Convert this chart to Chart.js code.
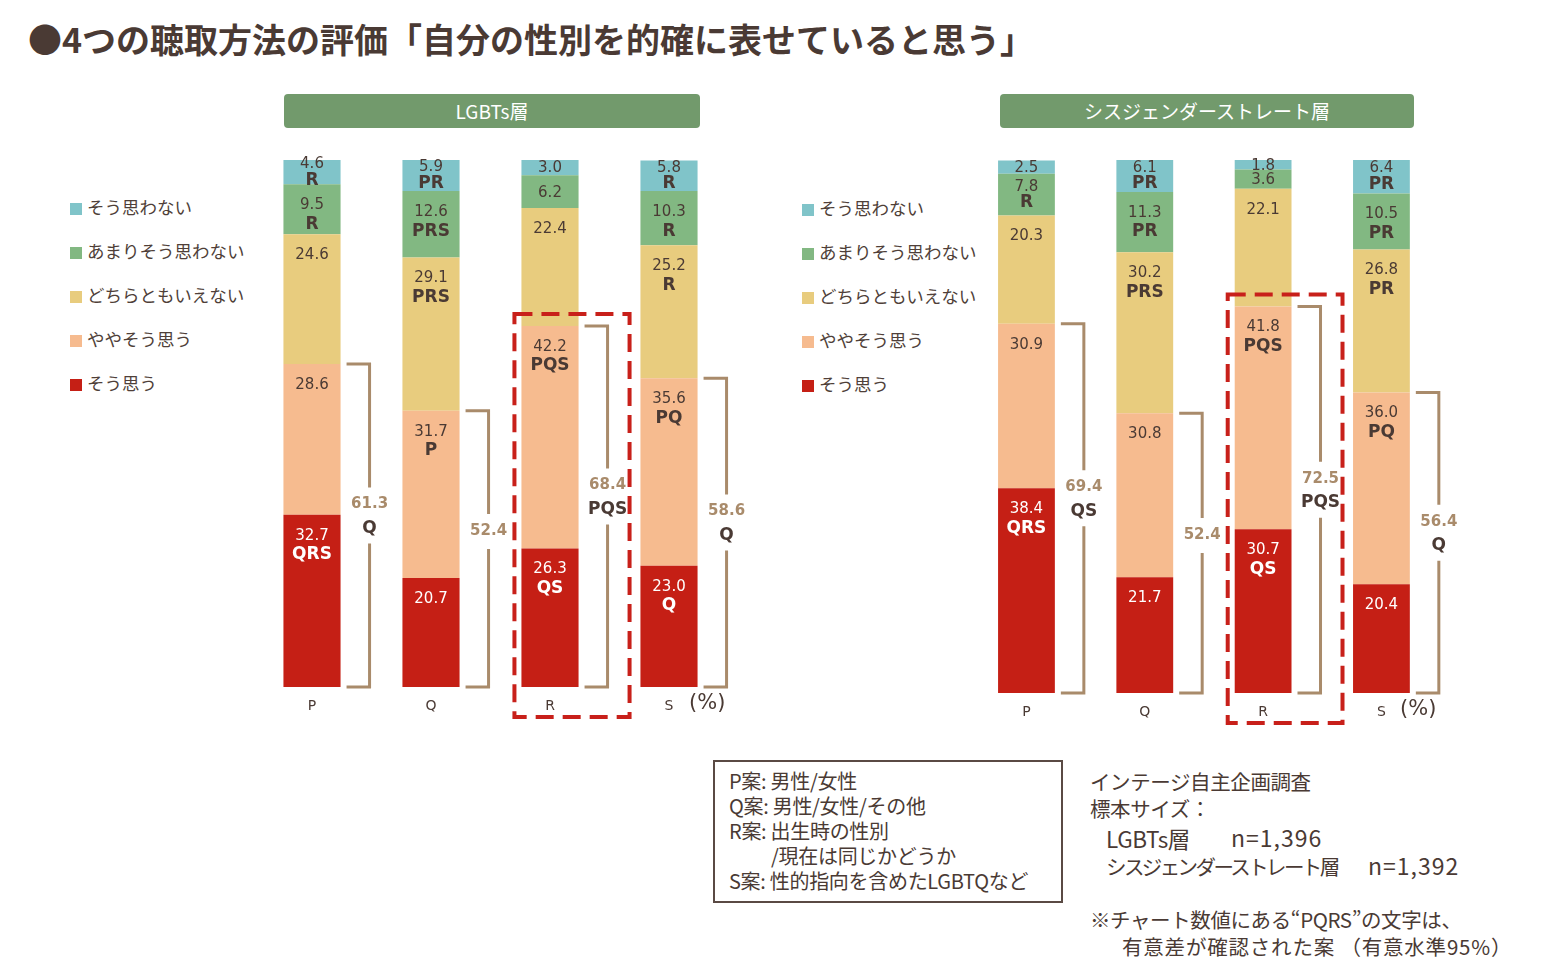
<!DOCTYPE html>
<html lang="ja">
<head>
<meta charset="utf-8">
<script src="https://cdn.jsdelivr.net/npm/chart.js@4.4.1/dist/chart.umd.min.js"></script>
<style>
  body { margin: 0; width: 1563px; height: 976px; background: #fff; position: relative; overflow: hidden;
         font-family: "Noto Sans CJK JP", sans-serif; color: #4a3a34; }
  .abs { position: absolute; }
  #title { left: 28px; top: 14px; font-size: 34px; font-weight: bold; color: #4a3a34; white-space: nowrap; }
  .banner { top: 94px; height: 34px; background: #729a6c; color: #fff; font-size: 19px; line-height: 34px;
            text-align: center; border-radius: 4px; }
  .legend div { height: 44px; font-size: 17.5px; line-height: 20px; white-space: nowrap; color: #4f3f39; }
  .legend span { display: inline-block; width: 12px; height: 12px; margin-right: 5px; vertical-align: -1px; }
  .pct { font-size: 21px; font-family: "DejaVu Sans", sans-serif; color: #4a3a34; }
  #notebox { left: 713px; top: 760px; width: 346px; height: 139px; border: 2px solid #5a4a44; }
  #notebox div, .info div { white-space: nowrap; }
  #notebox div { font-size: 20px; line-height: 25px; letter-spacing: -0.3px; }
  .info div { font-size: 20.5px; line-height: 27px; letter-spacing: -0.4px; position: relative; }
  .info .n { position: absolute; top: -1px; font-size: 23px; letter-spacing: 1px; }
</style>
</head>
<body>
<div id="title" class="abs">●4つの聴取方法の評価「自分の性別を的確に表せていると思う」</div>
<div class="abs banner" style="left:284px;width:416px;">LGBTs層</div>
<div class="abs banner" style="left:1000px;width:414px;">シスジェンダーストレート層</div>

<div id="legendL" class="abs legend" style="left:70px;top:197px;"></div>
<div id="legendR" class="abs legend" style="left:802px;top:198px;"></div>

<canvas id="chartL" class="abs" width="510" height="600" style="left:240px;top:140px;"></canvas>
<canvas id="chartR" class="abs" width="510" height="610" style="left:955px;top:140px;"></canvas>

<div class="abs pct" style="left:689px;top:690px;">(%)</div>
<div class="abs pct" style="left:1400px;top:696px;">(%)</div>

<div id="notebox" class="abs">
  <div style="position:absolute;left:14px;top:6px;">
    <div>P案: 男性/女性</div>
    <div>Q案: 男性/女性/その他</div>
    <div>R案: 出生時の性別</div>
    <div style="padding-left:42px;">/現在は同じかどうか</div>
    <div>S案: 性的指向を含めたLGBTQなど</div>
  </div>
</div>
<div class="abs info" style="left:1090px;top:768px;width:430px;">
  <div>インテージ自主企画調査</div>
  <div>標本サイズ：</div>
  <div style="padding-left:16px;margin-top:3px;"><span style="font-size:22.5px;">LGBTs層</span><span class="n" style="left:141px;">n=1,396</span></div>
  <div style="padding-left:16px;"><span style="letter-spacing:-2.6px;">シスジェンダーストレート層</span><span class="n" style="left:278px;">n=1,392</span></div>
  <div style="margin-top:26px;">※チャート数値にある“PQRS”の文字は、</div>
  <div style="padding-left:32px;letter-spacing:0.8px;">有意差が確認された案 （有意水準95%）</div>
</div>

<script>
const categories = ['P', 'Q', 'R', 'S'];
const seriesNames = ['そう思う', 'ややそう思う', 'どちらともいえない', 'あまりそう思わない', 'そう思わない'];
const seriesColors = ['#c51f15', '#f6bb8f', '#e8cc7e', '#82b882', '#80c4c9'];

// LGBTs層 (bottom to top)
const lgbtSou     = [32.7, 20.7, 26.3, 23.0];
const lgbtYaya    = [28.6, 31.7, 42.2, 35.6];
const lgbtDochira = [24.6, 29.1, 22.4, 25.2];
const lgbtAmari   = [9.5, 12.6, 6.2, 10.3];
const lgbtNot     = [4.6, 5.9, 3.0, 5.8];
const lgbtMarks = [
  ['QRS', '', 'QS', 'Q'],
  ['', 'P', 'PQS', 'PQ'],
  ['', 'PRS', '', 'R'],
  ['R', 'PRS', '', 'R'],
  ['R', 'PR', '', 'R']
];
const lgbtTop2 = [61.3, 52.4, 68.4, 58.6];
const lgbtTop2Marks = ['Q', '', 'PQS', 'Q'];

// シスジェンダーストレート層
const cisSou     = [38.4, 21.7, 30.7, 20.4];
const cisYaya    = [30.9, 30.8, 41.8, 36.0];
const cisDochira = [20.3, 30.2, 22.1, 26.8];
const cisAmari   = [7.8, 11.3, 3.6, 10.5];
const cisNot     = [2.5, 6.1, 1.8, 6.4];
const cisMarks = [
  ['QRS', '', 'QS', ''],
  ['', '', 'PQS', 'PQ'],
  ['', 'PRS', '', 'PR'],
  ['R', 'PR', '', 'PR'],
  ['', 'PR', '', 'PR']
];
const cisTop2 = [69.4, 52.4, 72.5, 56.4];
const cisTop2Marks = ['QS', '', 'PQS', 'Q'];

const TEXT = '#4a3a34';
const TAN = '#a98b6b';
const BOX_RED = '#c8201a';

// 凡例
['legendL', 'legendR'].forEach(function(id) {
  var el = document.getElementById(id);
  for (var i = seriesNames.length - 1; i >= 0; i--) {
    var row = document.createElement('div');
    row.innerHTML = '<span style="background:' + seriesColors[i] + '"></span>' + seriesNames[i];
    el.appendChild(row);
  }
});

function labelPlugin(marks, top2, top2Marks, boxIndex) {
  return {
    id: 'labels',
    afterDatasetsDraw: function(chart) {
      var ctx = chart.ctx;
      ctx.save();
      ctx.textAlign = 'center';
      ctx.textBaseline = 'middle';
      // セグメント内の数値と記号
      chart.data.datasets.forEach(function(ds, i) {
        chart.getDatasetMeta(i).data.forEach(function(bar, j) {
          var top = bar.y, bottom = bar.base, h = bottom - top;
          var mark = marks[i][j];
          var vy, my;
          if (h >= 48) { vy = top + 21; my = top + 40; }
          else if (mark) { vy = Math.max(top + 4, (top + bottom) / 2 - 8); my = vy + 16; }
          else { vy = (top + bottom) / 2 + 1; }
          ctx.fillStyle = i === 0 ? '#fff' : TEXT;
          ctx.font = '15px "DejaVu Sans"';
          ctx.fillText(ds.data[j].toFixed(1), bar.x, vy);
          if (mark) {
            ctx.font = 'bold 17px "DejaVu Sans"';
            ctx.fillText(mark, bar.x, my);
          }
        });
      });
      // 上位2つの合計の括弧
      var m0 = chart.getDatasetMeta(0), m1 = chart.getDatasetMeta(1);
      categories.forEach(function(c, j) {
        var b0 = m0.data[j], b1 = m1.data[j];
        var right = b0.x + b0.width / 2;
        var bx = right + 29;
        var top = b1.y, bottom = b0.base, mid = (top + bottom) / 2;
        var vy = top2Marks[j] ? mid - 21 : mid - 18;
        var my = mid + 3;
        var gapTop = vy - 17;
        var gapBot = top2Marks[j] ? my + 15 : vy + 18;
        ctx.strokeStyle = TAN;
        ctx.lineWidth = 3;
        ctx.setLineDash([]);
        ctx.beginPath();
        ctx.moveTo(right + 6, top); ctx.lineTo(bx, top); ctx.lineTo(bx, gapTop);
        ctx.moveTo(bx, gapBot); ctx.lineTo(bx, bottom); ctx.lineTo(right + 6, bottom);
        ctx.stroke();
        ctx.fillStyle = TAN;
        ctx.font = 'bold 15px "DejaVu Sans"';
        ctx.fillText(top2[j].toFixed(1), bx, vy);
        if (top2Marks[j]) {
          ctx.fillStyle = TEXT;
          ctx.font = 'bold 17px "DejaVu Sans"';
          ctx.fillText(top2Marks[j], bx, my);
        }
        // 赤い点線の枠
        if (j === boxIndex) {
          ctx.strokeStyle = BOX_RED;
          ctx.lineWidth = 4;
          ctx.setLineDash([18, 9]);
          ctx.strokeRect(b0.x - b0.width / 2 - 7, top - 12, (bx + 22) - (b0.x - b0.width / 2 - 7),
            chart.chartArea.bottom + 30 - (top - 12));
        }
      });
      ctx.restore();
    }
  };
}

function makeChart(id, series, marks, top2, top2Marks, pad, axisH) {
  return new Chart(document.getElementById(id), {
    type: 'bar',
    data: {
      labels: categories,
      datasets: series.map(function(d, i) {
        return { label: seriesNames[i], data: d, backgroundColor: seriesColors[i], borderWidth: 0 };
      })
    },
    options: {
      responsive: false,
      animation: false,
      devicePixelRatio: 1,
      layout: { padding: pad },
      categoryPercentage: 1,
      barPercentage: 0.48,
      plugins: { legend: { display: false }, tooltip: { enabled: false } },
      scales: {
        x: {
          stacked: true,
          grid: { display: false, drawTicks: false },
          border: { display: false },
          ticks: { color: TEXT, font: { family: 'DejaVu Sans', size: 14 }, padding: 11 },
          afterFit: function(s) { s.height = axisH; }
        },
        y: { stacked: true, display: false, min: 0, max: 100 }
      }
    },
    plugins: [labelPlugin(marks, top2, top2Marks, 2)]
  });
}

makeChart('chartL', [lgbtSou, lgbtYaya, lgbtDochira, lgbtAmari, lgbtNot], lgbtMarks, lgbtTop2, lgbtTop2Marks,
  { left: 12.5, right: 21.5, top: 20, bottom: 0 }, 53);
makeChart('chartR', [cisSou, cisYaya, cisDochira, cisAmari, cisNot], cisMarks, cisTop2, cisTop2Marks,
  { left: 12.3, right: 24.4, top: 20, bottom: 0 }, 57);
</script>
</body>
</html>
